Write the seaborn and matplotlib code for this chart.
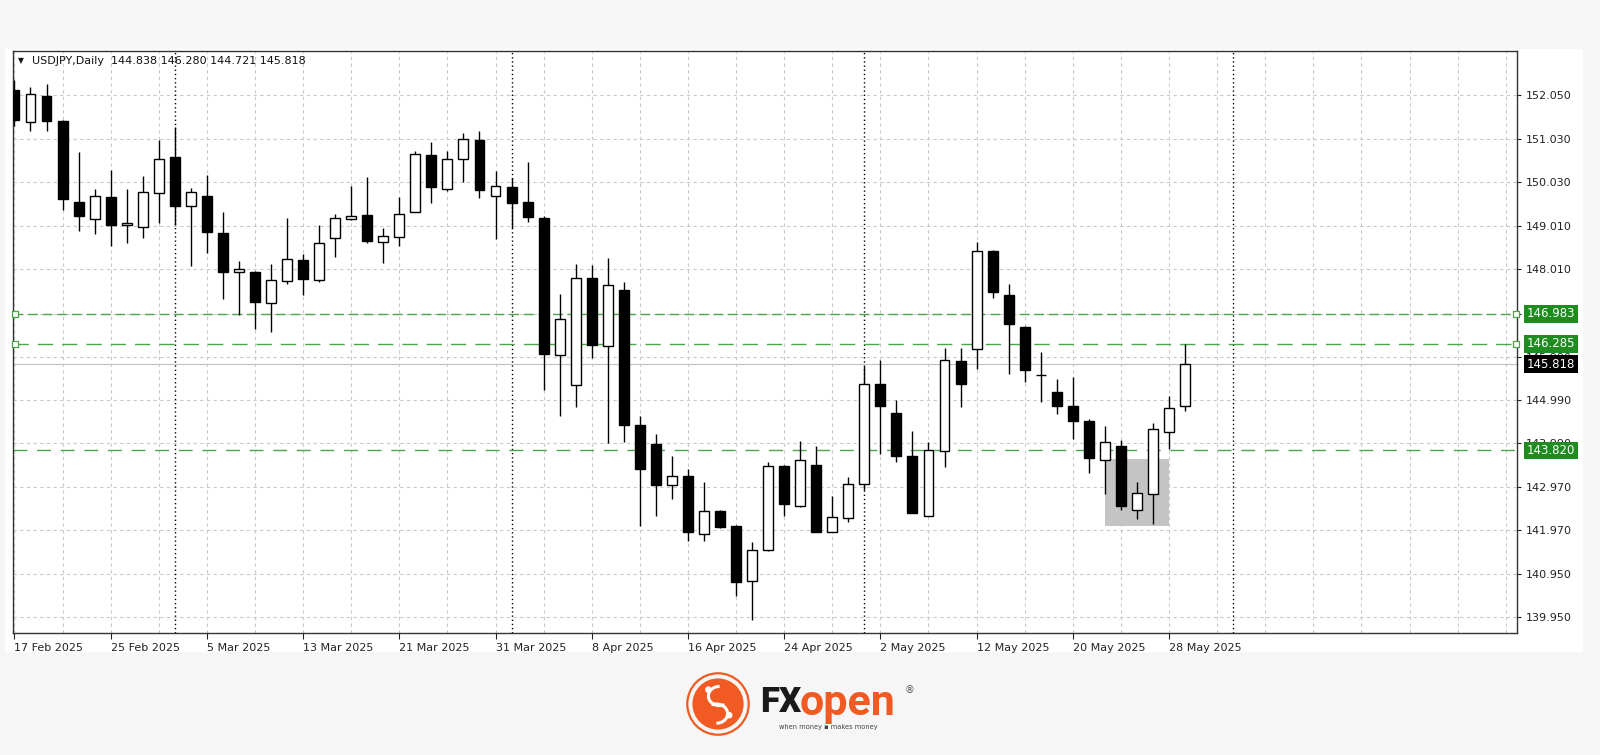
import numpy as np
import pandas as pd
import matplotlib
matplotlib.use("Agg")
import matplotlib.pyplot as plt
import seaborn as sns
from matplotlib.patches import Rectangle, Circle, Arc

# USDJPY daily candles, 17 Feb 2025 - 29 May 2025 (one per weekday)
opens = [152.17, 151.42, 152.03, 151.45, 149.58, 149.18, 149.69, 149.03, 149.00, 149.78,
         150.62, 149.48, 149.72, 148.86, 147.96, 147.96, 147.23, 147.75, 148.24, 147.77,
         148.73, 149.18, 149.26, 148.65, 148.76, 149.34, 150.66, 149.88, 150.56, 151.02,
         149.72, 149.91, 149.58, 149.20, 146.04, 145.34, 147.81, 146.23, 147.53, 144.41,
         143.96, 143.02, 143.22, 141.89, 142.41, 142.07, 140.80, 141.52, 143.46, 142.52,
         143.49, 141.94, 142.26, 143.04, 145.35, 144.68, 143.68, 142.31, 143.81, 145.90,
         146.17, 148.44, 147.42, 146.67, 145.57, 145.17, 144.85, 144.49, 143.60, 143.92,
         142.44, 142.81, 144.25, 144.838]
highs = [152.40, 152.23, 152.30, 151.47, 150.72, 149.87, 150.32, 149.88, 150.18, 151.01,
         151.32, 149.89, 150.20, 149.33, 148.20, 147.98, 148.13, 149.20, 148.37, 149.03,
         149.30, 149.95, 150.16, 148.97, 149.68, 150.76, 150.96, 150.75, 151.16, 151.21,
         150.30, 150.12, 150.49, 149.24, 147.45, 148.14, 148.12, 148.27, 147.71, 144.61,
         144.20, 143.70, 143.39, 143.08, 142.45, 142.10, 141.69, 143.56, 143.48, 144.03,
         143.91, 142.77, 143.20, 145.77, 145.91, 144.99, 144.27, 144.02, 146.18, 146.18,
         148.65, 148.46, 147.67, 146.70, 146.09, 145.47, 145.51, 144.55, 144.39, 144.06,
         143.08, 144.46, 145.07, 146.280]
lows = [151.33, 151.22, 151.22, 149.39, 148.91, 148.83, 148.56, 148.62, 148.73, 149.08,
        149.04, 148.09, 148.40, 147.32, 146.95, 146.64, 146.56, 147.68, 147.42, 147.72,
        148.30, 149.16, 148.62, 148.17, 148.56, 149.33, 149.54, 149.83, 150.03, 149.67,
        148.71, 148.97, 149.10, 145.21, 144.61, 144.82, 145.96, 144.00, 144.02, 142.06,
        142.29, 142.70, 141.73, 141.71, 142.03, 140.45, 139.89, 141.50, 142.29, 142.50,
        141.93, 141.92, 142.15, 142.90, 143.73, 143.54, 142.36, 142.29, 143.44, 144.82,
        145.71, 147.36, 145.60, 145.41, 144.93, 144.66, 144.08, 143.29, 142.81, 142.43,
        142.23, 142.11, 143.85, 144.721]
closes = [151.47, 152.07, 151.46, 149.64, 149.24, 149.72, 149.03, 149.09, 149.80, 150.56,
          149.49, 149.80, 148.87, 147.96, 148.03, 147.25, 147.77, 148.25, 147.80, 148.63,
          149.21, 149.25, 148.67, 148.78, 149.29, 150.68, 149.91, 150.56, 151.03, 149.84,
          149.95, 149.56, 149.22, 146.06, 146.87, 147.81, 146.26, 147.64, 144.40, 143.39,
          143.01, 143.22, 141.93, 142.41, 142.05, 140.77, 141.52, 143.46, 142.58, 143.60,
          141.94, 142.27, 143.04, 145.35, 144.85, 143.68, 142.38, 143.83, 145.91, 145.36,
          148.44, 147.48, 146.74, 145.67, 145.56, 144.85, 144.49, 143.65, 144.01, 142.54,
          142.83, 144.32, 144.81, 145.818]

dates = pd.bdate_range("2025-02-17", "2025-05-29")
date_labels = ["17 Feb 2025", "25 Feb 2025", "5 Mar 2025", "13 Mar 2025", "21 Mar 2025",
               "31 Mar 2025", "8 Apr 2025", "16 Apr 2025", "24 Apr 2025", "2 May 2025",
               "12 May 2025", "20 May 2025", "28 May 2025"]
price_ticks = [152.050, 151.030, 150.030, 149.010, 148.010, 146.990, 145.990,
               144.990, 143.990, 142.970, 141.970, 140.950, 139.950]
level_lines = [146.983, 146.285, 143.820]
last_price = 145.818
separator_idx = [10, 31, 53, 76]   # month separators
box_idx = [68, 72]                 # highlighted zone
box_price = [142.06, 143.62]

df = pd.DataFrame({"date": dates, "open": opens, "high": highs, "low": lows, "close": closes})
df["idx"] = np.arange(len(df))
df["bull"] = df["close"] >= df["open"]

sns.set_style("white")
plt.rcParams["font.family"] = ["DejaVu Sans"]

W, H = 1600, 755
fig = plt.figure(figsize=(16, 7.55), dpi=100, facecolor="#f6f6f6")
# white chart panel behind the axes
fig.patches.append(Rectangle((5 / W, 1 - 652 / H), 1578 / W, 603 / H, transform=fig.transFigure,
                             facecolor="white", edgecolor="none", zorder=-10))
ax = fig.add_axes([13 / W, 1 - 633 / H, 1504 / W, 582 / H])
ax.set_facecolor("white")

green_line = "#48a848"
green_box = "#1f8c1f"

# highlighted zone
ax.add_patch(Rectangle((box_idx[0], box_price[0]), box_idx[1] - box_idx[0], box_price[1] - box_price[0],
                       facecolor="#c4c4c4", edgecolor="none", zorder=1.5))

# candles
ax.vlines(df["idx"], df["low"], df["high"], color="black", lw=1, zorder=3)
ax.bar(df["idx"], (df["close"] - df["open"]).abs(), bottom=df[["open", "close"]].min(axis=1),
       width=0.62, color=np.where(df["bull"], "white", "black"), edgecolor="black",
       linewidth=1, zorder=4)

# level lines
ax.axhline(level_lines[0], color=green_line, lw=1, ls=(0, (7, 3.5)), zorder=2)
ax.axhline(level_lines[1], color=green_line, lw=1, ls=(0, (11, 6.5)), zorder=2)
ax.axhline(level_lines[2], color=green_line, lw=1, ls=(0, (10, 7)), zorder=2)
ax.axhline(last_price, color="#c0c0c0", lw=0.8, zorder=1.8)

for s in separator_idx:
    ax.axvline(s, color="black", lw=1, ls=(0, (1, 2)), zorder=1.6)

xmin, xmax = -0.09, 93.7
ax.set_xlim(xmin, xmax)
ax.set_ylim(139.59, 153.07)

# anchor squares of the trend lines
anchors = pd.DataFrame({"x": [xmin + 0.1, xmax - 0.05] * 2,
                        "y": [level_lines[0]] * 2 + [level_lines[1]] * 2})
sns.scatterplot(data=anchors, x="x", y="y", marker="s", s=14, facecolor="white",
                edgecolor=green_line, linewidth=0.9, ax=ax, zorder=5, clip_on=False)
ax.set_xlabel("")
ax.set_ylabel("")

# ticks and grid
ax.set_xticks(df["idx"][::6])
ax.set_xticklabels(date_labels, ha="left")
ax.set_xticks(np.arange(3, 94, 3), minor=True)
ax.yaxis.tick_right()
ax.set_yticks(price_ticks)
ax.set_yticklabels([f"{p:.3f}" for p in price_ticks])
ax.tick_params(axis="x", which="major", direction="out", length=4, pad=3, labelsize=8,
               colors="#222222", bottom=True)
ax.tick_params(axis="x", which="minor", length=0)
ax.tick_params(axis="y", direction="out", length=3, pad=3, labelsize=8, colors="#222222", right=True)
ax.grid(True, which="both", axis="x", color="#c9c9c9", lw=0.8, ls=(0, (3, 3)))
ax.grid(True, which="major", axis="y", color="#c9c9c9", lw=0.8, ls=(0, (3, 3)))
for sp in ax.spines.values():
    sp.set_color("#333333")
    sp.set_linewidth(1)

# price boxes on the right scale (they cover the nearby scale labels, as in the terminal)
ytr = ax.get_yaxis_transform()
for lv in level_lines:
    ax.text(1.0065, lv, f"{lv:.3f}", transform=ytr, color="white", fontsize=8.5, va="center", ha="left",
            zorder=10, clip_on=False,
            bbox=dict(boxstyle="square,pad=0.2", facecolor=green_box, edgecolor="none"))
ax.text(1.0065, last_price, f"{last_price:.3f}", transform=ytr, color="white", fontsize=8.5,
        va="center", ha="left", zorder=10, clip_on=False,
        bbox=dict(boxstyle="square,pad=0.2", facecolor="black", edgecolor="none"))

# header
ax.text(0.0035, 0.983, "\u25bc", transform=ax.transAxes, fontsize=5.5, va="center", ha="left", color="#111111")
ax.text(0.0125, 0.983, f"USDJPY,Daily  {opens[-1]:.3f} {highs[-1]:.3f} {lows[-1]:.3f} {closes[-1]:.3f}",
        transform=ax.transAxes, fontsize=8, va="center", ha="left", color="#111111")

# logo
orange = "#f15a22"
lax = fig.add_axes([686 / W, 1 - 736 / H, 64 / W, 64 / H])
lax.set_xlim(-1, 1)
lax.set_ylim(-1, 1)
lax.set_aspect("equal")
lax.axis("off")
lax.add_patch(Circle((0, 0), 0.96, facecolor="none", edgecolor=orange, lw=1.6))
lax.add_patch(Circle((0, 0), 0.80, facecolor=orange, edgecolor="none"))
lax.add_patch(Arc((0.05, 0.25), 0.7, 0.6, theta1=90, theta2=300, color="white", lw=2.2))
lax.add_patch(Arc((-0.05, -0.3), 0.7, 0.6, theta1=270, theta2=120, color="white", lw=2.2))
lax.add_patch(Circle((-0.3, 0.45), 0.08, color="white"))
lax.add_patch(Circle((0.35, -0.35), 0.08, color="white"))

fig.text(760 / W, 1 - 703 / H, "FX", fontsize=25, fontweight="heavy", color="#1a1a1a",
         family="Roboto", ha="left", va="center")
fig.text(800 / W, 1 - 703 / H, "open", fontsize=31, fontweight="bold", color=orange,
         family="Roboto", ha="left", va="center")
fig.text(905 / W, 1 - 690 / H, "\u00ae", fontsize=7, color="#555555", ha="left", va="center")
fig.text(779 / W, 1 - 727 / H, "when money \u25aa makes money", fontsize=4.8, color="#444444",
         ha="left", va="center")

fig.savefig("out.png", dpi=100, facecolor=fig.get_facecolor())
